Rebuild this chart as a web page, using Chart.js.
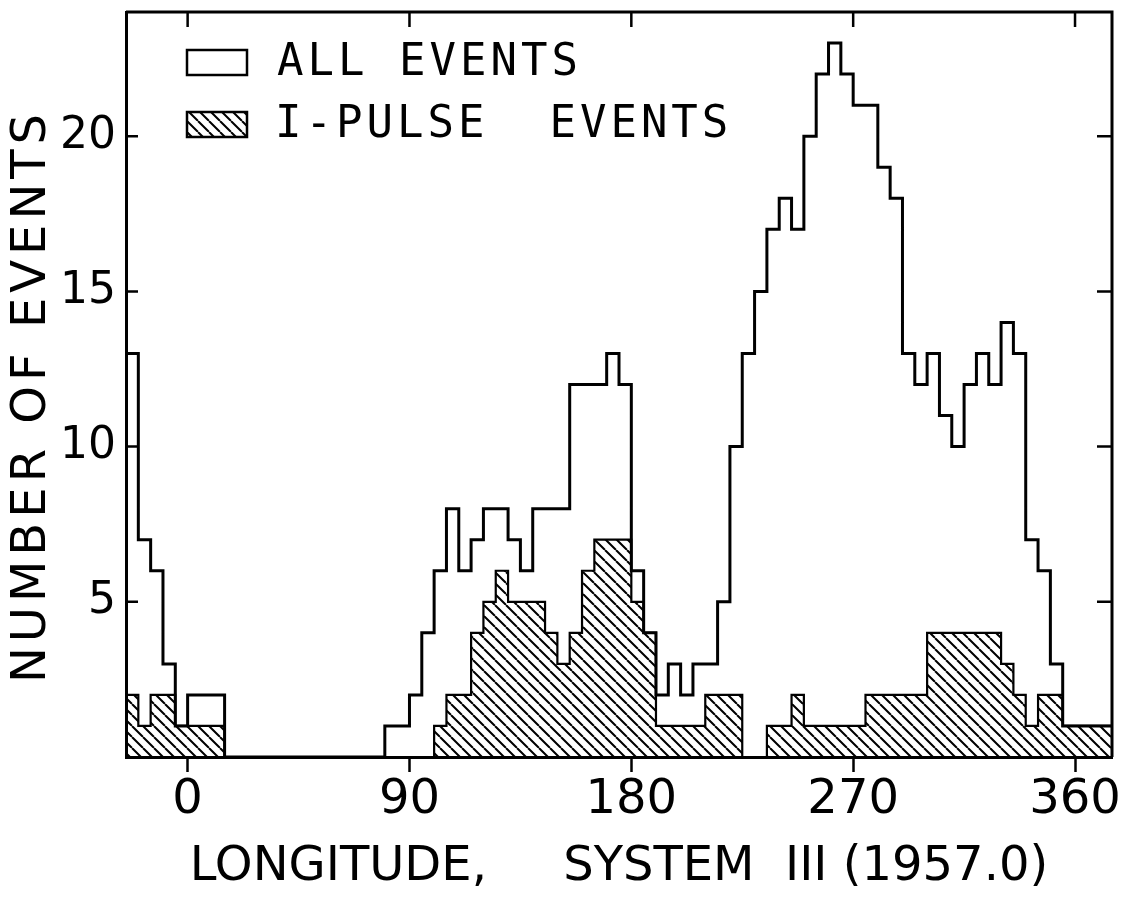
<!DOCTYPE html>
<html>
<head>
<meta charset="utf-8">
<script src="https://cdn.jsdelivr.net/npm/chart.js@4.4.1/dist/chart.umd.min.js"></script>
<style>
  html, body { margin: 0; background: #fff; }
  #wrap { width: 1142px; height: 901px; }
</style>
</head>
<body>
<div id="wrap"><canvas id="chartHist"></canvas></div>
<script>
// left edge of each 5 degree longitude bin
const binStart = [
  -25, -20, -15, -10, -5, 0, 5, 10, 15, 20, 25, 30, 35, 40, 45, 50, 55, 60, 65, 70,
  75, 80, 85, 90, 95, 100, 105, 110, 115, 120, 125, 130, 135, 140, 145, 150, 155, 160, 165, 170,
  175, 180, 185, 190, 195, 200, 205, 210, 215, 220, 225, 230, 235, 240, 245, 250, 255, 260, 265, 270,
  275, 280, 285, 290, 295, 300, 305, 310, 315, 320, 325, 330, 335, 340, 345, 350, 355, 360, 365, 370
];
const allEvents = [
  13, 7, 6, 3, 1, 2, 2, 2, 0, 0, 0, 0, 0, 0, 0, 0, 0, 0, 0, 0,
  0, 1, 1, 2, 4, 6, 8, 6, 7, 8, 8, 7, 6, 8, 8, 8, 12, 12, 12, 13,
  12, 6, 4, 2, 3, 2, 3, 3, 5, 10, 13, 15, 17, 18, 17, 20, 22, 23, 22, 21,
  21, 19, 18, 13, 12, 13, 11, 10, 12, 13, 12, 14, 13, 7, 6, 3, 1, 1, 1, 1
];
const iPulse = [
  2, 1, 2, 2, 1, 1, 1, 1, 0, 0, 0, 0, 0, 0, 0, 0, 0, 0, 0, 0,
  0, 0, 0, 0, 0, 1, 2, 2, 4, 5, 6, 5, 5, 5, 4, 3, 4, 6, 7, 7,
  7, 5, 4, 1, 1, 1, 1, 2, 2, 2, 0, 0, 1, 1, 2, 1, 1, 1, 1, 1,
  2, 2, 2, 2, 2, 4, 4, 4, 4, 4, 4, 3, 2, 1, 2, 2, 1, 1, 1, 1
];
const binWidth = 5;
const xTicks = [0, 90, 180, 270, 360];
const yTicks = [5, 10, 15, 20];

// bin edges -> step points, the last bin closed at its right edge
function steps(values) {
  const pts = binStart.map((b, i) => ({ x: b, y: values[i] }));
  const last = binStart.length - 1;
  pts.push({ x: binStart[last] + binWidth, y: values[last] });
  return pts;
}

// diagonal hatching for the I-pulse histogram
const tile = document.createElement("canvas");
tile.width = tile.height = 11;
const tc = tile.getContext("2d");
tc.strokeStyle = "#000";
tc.lineWidth = 2;
tc.beginPath();
for (const o of [-11, 0, 11]) {
  tc.moveTo(o, 0);
  tc.lineTo(o + 11, 11);
}
tc.stroke();
const hatch = tc.createPattern(tile, "repeat");

// frame, inward ticks, legend and y title
const frame = {
  id: "frame",
  afterDraw(chart) {
    const { ctx, chartArea: a, scales: { x, y } } = chart;
    ctx.save();
    ctx.strokeStyle = "#000";
    ctx.lineWidth = 3;
    ctx.beginPath();
    ctx.moveTo(a.left, a.top);
    ctx.lineTo(a.right, a.top);
    ctx.lineTo(a.right, a.bottom);
    ctx.stroke();

    ctx.lineWidth = 2.5;
    ctx.beginPath();
    xTicks.forEach(v => {
      const px = x.getPixelForValue(v);
      ctx.moveTo(px, a.top);
      ctx.lineTo(px, a.top + 15);
    });
    yTicks.forEach(v => {
      const py = y.getPixelForValue(v);
      ctx.moveTo(a.left, py);
      ctx.lineTo(a.left + 12, py);
      ctx.moveTo(a.right - 15, py);
      ctx.lineTo(a.right, py);
    });
    ctx.stroke();

    // legend
    ctx.fillStyle = "#fff";
    ctx.fillRect(a.left + 61, a.top + 38, 60, 25);
    ctx.strokeRect(a.left + 61, a.top + 38, 60, 25);
    ctx.fillStyle = hatch;
    ctx.fillRect(a.left + 61, a.top + 100, 60, 25);
    ctx.strokeRect(a.left + 61, a.top + 100, 60, 25);

    ctx.fillStyle = "#000";
    ctx.font = '44px "DejaVu Sans Mono"';
    ctx.letterSpacing = "4px";
    ctx.textAlign = "left";
    ctx.textBaseline = "alphabetic";
    ctx.fillText(chart.data.datasets[0].label, a.left + 151, a.top + 63);
    ctx.fillText(chart.data.datasets[1].label, a.left + 149, a.top + 125);

    // y axis title
    ctx.translate(33, 396);
    ctx.rotate(-Math.PI / 2);
    ctx.font = '48px "DejaVu Sans"';
    ctx.letterSpacing = "5px";
    ctx.textAlign = "center";
    ctx.textBaseline = "middle";
    ctx.fillText("NUMBER OF EVENTS", 0, 0);
    ctx.restore();
  },
};

new Chart(document.getElementById("chartHist"), {
  type: "line",
  data: {
    datasets: [
      {
        label: "ALL EVENTS",
        data: steps(allEvents),
        stepped: true,
        borderColor: "#000",
        borderWidth: 3,
        fill: false,
        pointRadius: 0,
      },
      {
        label: "I-PULSE  EVENTS",
        data: steps(iPulse),
        stepped: true,
        borderColor: "#000",
        borderWidth: 2.2,
        backgroundColor: hatch,
        fill: "origin",
        pointRadius: 0,
      },
    ],
  },
  options: {
    responsive: true,
    maintainAspectRatio: false,
    animation: false,
    layout: { padding: { top: 12, right: 30, left: 0, bottom: 0 } },
    plugins: {
      legend: { display: false },
      tooltip: { enabled: false },
    },
    scales: {
      x: {
        type: "linear",
        min: -25,
        max: 375,
        afterBuildTicks: s => { s.ticks = xTicks.map(v => ({ value: v })); },
        afterFit: s => { s.height = 144; },
        grid: { drawOnChartArea: false, tickLength: 15, tickWidth: 2.5, color: "#000" },
        border: { color: "#000", width: 3 },
        ticks: {
          padding: 0,
          color: "#000",
          maxRotation: 0,
          autoSkip: false,
          font: { family: "DejaVu Sans", size: 48 },
        },
        title: {
          display: true,
          text: "LONGITUDE,     SYSTEM  III (1957.0)",
          color: "#000",
          font: { family: "DejaVu Sans", size: 48 },
          padding: { top: 0, bottom: 5 },
        },
      },
      y: {
        min: 0,
        max: 24,
        afterBuildTicks: s => { s.ticks = yTicks.map(v => ({ value: v })); },
        afterFit: s => {
          s.width = 126;
          s.paddingTop = 0;
          s.paddingBottom = 0;
        },
        grid: { drawOnChartArea: false, drawTicks: false },
        border: { color: "#000", width: 3 },
        ticks: {
          padding: 10,
          color: "#000",
          font: { family: "DejaVu Sans", size: 44 },
        },
      },
    },
  },
  plugins: [frame],
});
</script>
</body>
</html>
